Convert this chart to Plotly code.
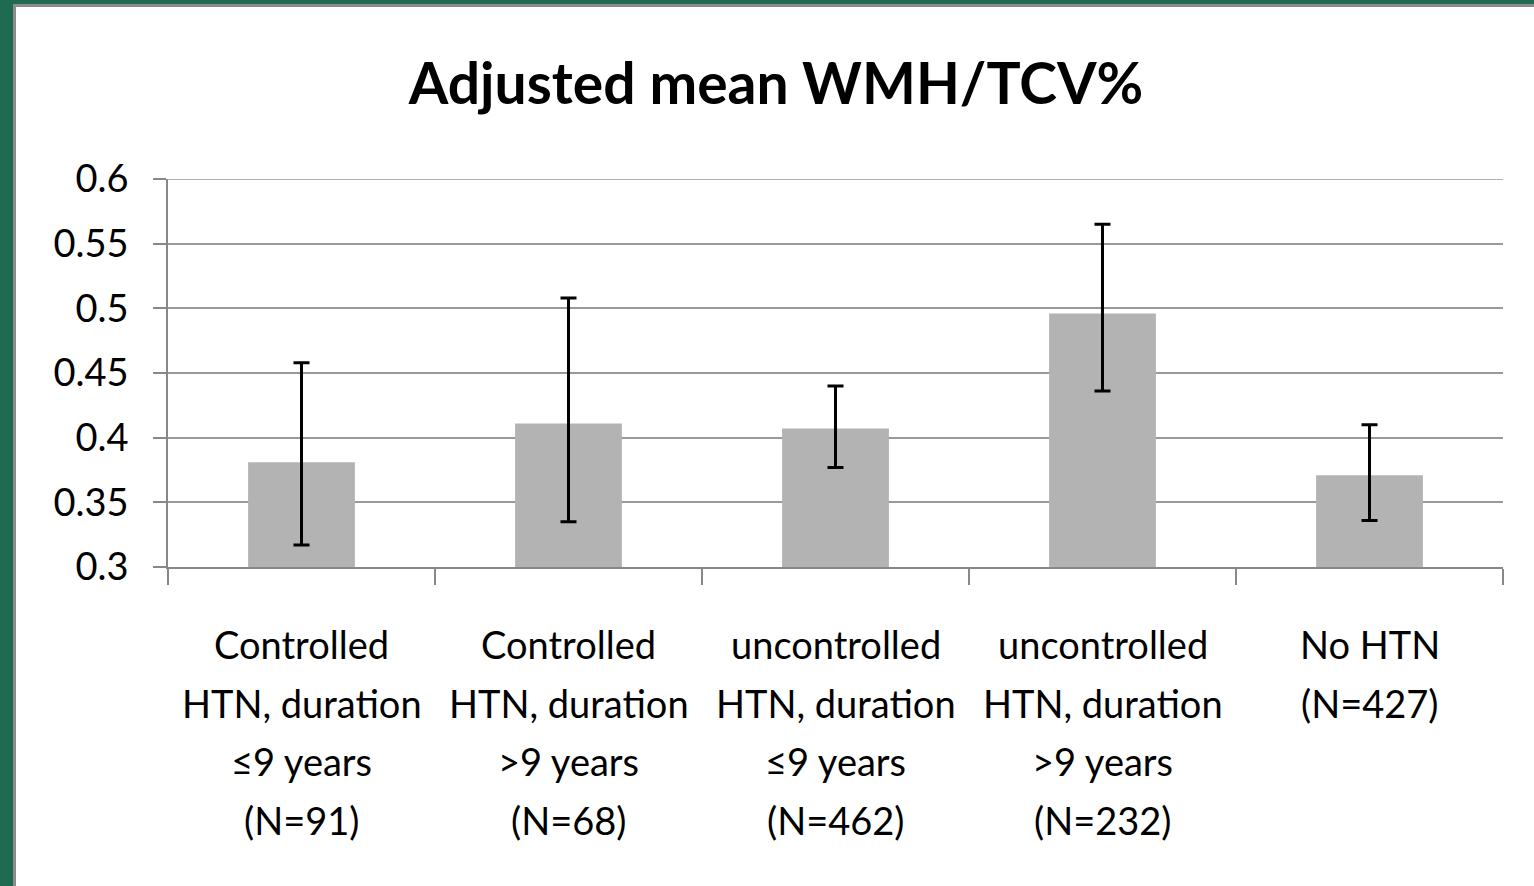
import plotly.graph_objects as go

category_lines = [
    ["Controlled", "HTN, duration", "≤9 years", "(N=91)"],
    ["Controlled", "HTN, duration", ">9 years", "(N=68)"],
    ["uncontrolled", "HTN, duration", "≤9 years", "(N=462)"],
    ["uncontrolled", "HTN, duration", ">9 years", "(N=232)"],
    ["No HTN", "(N=427)"],
]
categories = ["<br>".join(c) for c in category_lines]
means = [0.381, 0.411, 0.407, 0.496, 0.371]
upper = [0.458, 0.508, 0.440, 0.565, 0.410]
lower = [0.317, 0.335, 0.377, 0.436, 0.336]
y_ticks = [0.3, 0.35, 0.4, 0.45, 0.5, 0.55, 0.6]
y_tick_labels = ["0.3", "0.35", "0.4", "0.45", "0.5", "0.55", "0.6"]

err_plus = [u - m for u, m in zip(upper, means)]
err_minus = [m - l for m, l in zip(means, lower)]

FONT = "Lato, Calibri, 'Open Sans', sans-serif"
W, H = 1534, 886
L, R, T, B = 168, 31, 179, 319

fig = go.Figure()
fig.add_trace(go.Bar(
    x=categories, y=means,
    marker=dict(color="#b3b3b3", line=dict(width=0)),
    error_y=dict(type="data", symmetric=False, array=err_plus, arrayminus=err_minus,
                 color="black", thickness=3, width=8),
))

pw = W - L - R
ph = H - T - B
def px(x):
    return (x - L) / pw
def py(y):
    return (H - B - y) / ph

shapes = [
    # top gridline (at the range edge, which plotly does not draw)
    dict(type="line", xref="paper", yref="y", x0=0, x1=1, y0=max(y_ticks), y1=max(y_ticks),
         line=dict(color="#999999", width=1.5), layer="below"),
    dict(type="rect", xref="paper", yref="paper", x0=px(0), x1=px(W), y0=py(0), y1=py(4),
         fillcolor="#1e6b52", line=dict(width=0), layer="above"),
    dict(type="rect", xref="paper", yref="paper", x0=px(0), x1=px(13), y0=py(0), y1=py(H),
         fillcolor="#1e6b52", line=dict(width=0), layer="above"),
    dict(type="rect", xref="paper", yref="paper", x0=px(13), x1=px(W), y0=py(4), y1=py(7),
         fillcolor="#8c8c8c", line=dict(width=0), layer="above"),
    dict(type="rect", xref="paper", yref="paper", x0=px(13), x1=px(16), y0=py(4), y1=py(H),
         fillcolor="#8c8c8c", line=dict(width=0), layer="above"),
]

annotations = []
LINE_GAP = 58.5
FIRST = 77
for cat, lines in zip(categories, category_lines):
    for i, line in enumerate(lines):
        annotations.append(dict(
            x=cat, y=0, xref="x", yref="paper", text=line, showarrow=False,
            xanchor="center", yanchor="middle", yshift=-(FIRST + i * LINE_GAP),
            font=dict(family=FONT, size=38, color="black"),
        ))

fig.update_layout(
    width=W, height=H,
    margin=dict(l=L, r=R, t=T, b=B, pad=0),
    paper_bgcolor="white", plot_bgcolor="white",
    bargap=0.6,
    showlegend=False,
    title=dict(text="<b>Adjusted mean WMH/TCV%</b>", x=px(776), xanchor="center",
               xref="paper", y=1 - 84 / H, yanchor="middle",
               font=dict(family=FONT, size=57, color="black")),
    font=dict(family=FONT, color="black"),
    shapes=shapes,
    annotations=annotations,
    xaxis=dict(
        type="category",
        tickson="boundaries", ticks="outside", ticklen=16, tickcolor="#888888", tickwidth=1.5,
        showline=True, linecolor="#888888", linewidth=1.5,
        showgrid=False, showticklabels=False,
    ),
    yaxis=dict(
        range=[0.3, 0.6],
        tickvals=y_ticks, ticktext=y_tick_labels,
        ticks="outside", ticklen=13, tickcolor="#888888", tickwidth=1.5,
        showline=True, linecolor="#888888", linewidth=1.5,
        showgrid=True, gridcolor="#999999", gridwidth=1.5,
        zeroline=False,
        tickfont=dict(family=FONT, size=38, color="black"),
        ticklabelstandoff=17,
    ),
)

fig.write_html("out.html", config={"displayModeBar": False},
               post_script="document.body.style.margin='0';")
